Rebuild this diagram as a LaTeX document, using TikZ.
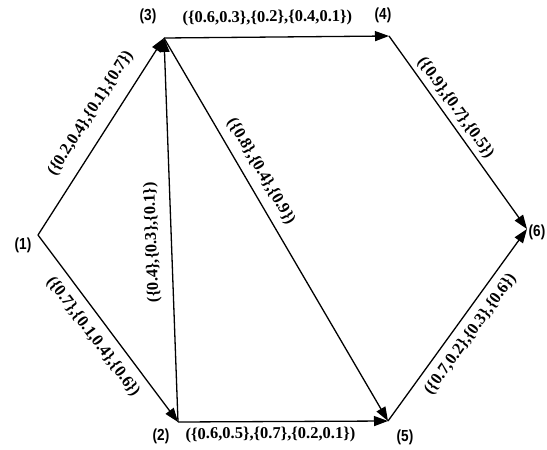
\documentclass[tikz,border=0pt]{standalone}
\usepackage{fontspec}
\setmainfont{Liberation Serif}
\newfontfamily\vfont{Liberation Sans}[FakeStretch=0.85]
\usetikzlibrary{arrows.meta}
\begin{document}
\begin{tikzpicture}[x=1pt,y=-1pt,
  edge/.style={line width=1.3pt,-{Triangle[length=14pt,width=10pt]}},
  elabel/.style={font=\fontsize{16.5}{18}\selectfont\bfseries, inner sep=1pt, sloped},
  vlabel/.style={font=\vfont\fontsize{16}{18}\selectfont\bfseries, inner sep=0pt}]
\useasboundingbox[fill=white] (0,0) rectangle (547,450);
\coordinate (n1) at (38,235);
\coordinate (n2) at (178,422);
\coordinate (n3) at (164,38);
\coordinate (n4) at (389,36);
\coordinate (n5) at (388,421);
\coordinate (n6) at (527,229);
\node[vlabel] (l1) at (23,245) {(1)};
\node[vlabel] (l2) at (161,436) {(2)};
\node[vlabel] (l3) at (148,16) {(3)};
\node[vlabel] (l4) at (383,15) {(4)};
\node[vlabel] (l5) at (405,437) {(5)};
\node[vlabel] (l6) at (537,232) {(6)};
\draw[edge] (n1) -- node[elabel, pos=0.56, above=12pt] (e13) {(\{0.2,0.4\},\{0.1\},\{0.7\})} (n3);
\draw[edge] (n1) -- node[elabel, pos=0.49, below=8pt] (e12) {(\{0.7\},\{0.1,0.4\},\{0.6\})} (n2);
\draw[edge] (n2) -- node[elabel, allow upside down, pos=0.47, above=10pt] (e23) {(\{0.4\},\{0.3\},\{0.1\})} (n3);
\draw[edge] (n3) -- node[elabel, pos=0.37, above=7pt] (e35) {(\{0.8\},\{0.4\},\{0.9\})} (n5);
\draw[edge] (n3) -- node[elabel, pos=0.46, above=10pt] (e34) {(\{0.6,0.3\},\{0.2\},\{0.4,0.1\})} (n4);
\draw[edge] (n2) -- node[elabel, pos=0.44, below=4pt] (e25) {(\{0.6,0.5\},\{0.7\},\{0.2,0.1\})} (n5);
\draw[edge] (n4) -- node[elabel, pos=0.41, above=3pt] (e46) {(\{0.9\},\{0.7\},\{0.5\})} (n6);
\draw[edge] (n5) -- node[elabel, pos=0.5, below=7pt] (e56) {(\{0.7,0.2\},\{0.3\},\{0.6\})} (n6);
\end{tikzpicture}
\end{document}
